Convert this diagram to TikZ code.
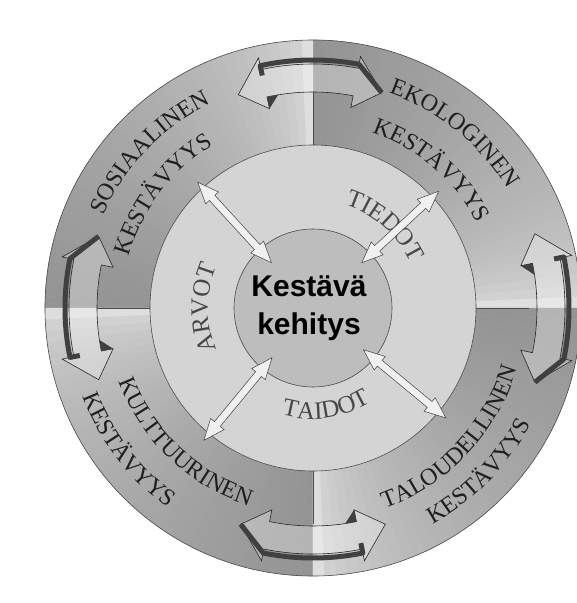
\documentclass[tikz,border=0pt]{standalone}
\usepackage{fontspec}
\setmainfont{Liberation Serif}
\newfontfamily\coresans{Liberation Sans}
\usetikzlibrary{arrows.meta,positioning,decorations.text,shapes.arrows}
\definecolor{ink}{gray}{0.12}
\definecolor{softink}{gray}{0.28}
\definecolor{midring}{gray}{0.83}
\definecolor{corefill}{gray}{0.74}
\definecolor{rimdark}{gray}{0.25}
\definecolor{edge}{gray}{0.3}
\newcommand\ringfont{\fontsize{24}{26}\selectfont}
\newcommand\skillfont{\fontsize{25}{27}\selectfont}

\begin{document}
\begin{tikzpicture}[x=1pt,y=1pt,
  outerword/.style={decorate,decoration={text along path,text align=center,
    text color=ink,text={|\ringfont|#1}}},
  skillword/.style={decorate,decoration={text along path,text align=center,
    text color=softink,text={|\skillfont|#1}}},
  flow/.style={draw=black!85,line width=0.6pt,fill=white,fill opacity=0.3,line join=miter},
  rim/.style={draw=rimdark,line width=5pt,line join=round},
  spoke/.style={double arrow,draw=black!75,fill=black!6,line width=0.5pt,inner sep=0pt,
    inner ysep=3.5pt,double arrow head extend=5pt,double arrow tip angle=45,minimum height=#1},
]
  \useasboundingbox (-313,-295) rectangle (264,308);
  \fill[white] (-313,-295) rectangle (264,308);

  \foreach \q in {0,90,180,270}
    \foreach \i in {0,...,35} {
      \pgfmathsetmacro\dk{13+29*(\i/35)^0.5}
      \pgfmathsetmacro\s{\q+2.5*\i}
      \pgfmathsetmacro\e{\s+2.5}
      \filldraw[fill=black!\dk,draw=black!\dk,line width=0.4pt] (\s:163)
        arc[start angle=\s,end angle=\e,radius=163] -- (\e:268)
        arc[start angle=\e,end angle=\s,radius=268] -- cycle;
    }
  \draw[edge,line width=0.6pt] (0,0) circle[radius=268];
  \foreach \q in {0,90,180,270}
    \draw[edge,line width=0.5pt] (\q:163) -- (\q:216);
  \filldraw[fill=midring,draw=edge,line width=0.6pt] (0,0) circle[radius=163];
  \filldraw[fill=corefill,draw=edge,line width=0.6pt] (0,0) circle[radius=79];

  \path[outerword=SOSIAALINEN] (196.4:229) arc[start angle=196.4,end angle=76.4,radius=229];
  \path[outerword=KESTÄVYYS] (202.9:191) arc[start angle=202.9,end angle=82.9,radius=191];
  \path[outerword=EKOLOGINEN] (111:228) arc[start angle=111,end angle=-9,radius=228];
  \path[outerword=KESTÄVYYS] (109.4:185) arc[start angle=109.4,end angle=-10.6,radius=185];
  \path[outerword=KULTTUURINEN] (166.4:208) arc[start angle=166.4,end angle=286.4,radius=208];
  \path[outerword=KESTÄVYYS] (157.5:247) arc[start angle=157.5,end angle=277.5,radius=247];
  \path[outerword=TALOUDELLINEN] (256.6:213) arc[start angle=256.6,end angle=376.6,radius=213];
  \path[outerword=KESTÄVYYS] (255.5:247) arc[start angle=255.5,end angle=375.5,radius=247];

  \path[skillword=TIEDOT] (98.8:108) arc[start angle=98.8,end angle=-1.2,radius=108];
  \path[skillword=ARVOT] (230:105) arc[start angle=230,end angle=130,radius=105];
  \path[skillword=TAIDOT] (227.6:111) arc[start angle=227.6,end angle=327.6,radius=111];

  \foreach \a/\d in {90.8/0,0/8,180/0,270/2} {
    \pgfmathsetmacro\lo{\a-11.5}
    \pgfmathsetmacro\hi{\a+11.5}
    \pgfmathsetmacro\tlo{\a-18.5}
    \pgfmathsetmacro\thi{\a+18.5}
    \pgfmathsetmacro\ri{216+\d}
    \pgfmathsetmacro\ro{244+\d}
    \pgfmathsetmacro\bi{204+\d}
    \pgfmathsetmacro\bo{256+\d}
    \pgfmathsetmacro\rt{226+\d}
    \pgfmathsetmacro\rr{248+\d}
    \pgfmathsetmacro\rh{238+\d}
    \pgfmathsetmacro\nk{\hi-3}
    \draw[flow] (\lo:\ri) arc[start angle=\lo,end angle=\hi,radius=\ri]
      -- (\hi:\bi) -- (\thi:\rt) -- (\hi:\bo) -- (\hi:\ro)
      arc[start angle=\hi,end angle=\lo,radius=\ro]
      -- (\lo:\bo) -- (\tlo:\rt) -- (\lo:\bi) -- cycle;
    \draw[rim] (\hi:\rh) -- (\hi:\rr) arc[start angle=\hi,end angle=\lo,radius=\rr] -- (\tlo:\rt);
    \fill[rimdark] (\hi:\bi) -- (\nk:\ri) -- (\hi:\ri) -- cycle;
  }

  \node[spoke=109pt,rotate=132.5] (sp-ul) at (132.5:116) {};
  \node[spoke=105pt,rotate=42.9] (sp-ur) at (42.9:119) {};
  \node[spoke=107pt,rotate=-39.6] (sp-lr) at (-39.6:119) {};
  \node[spoke=107pt,rotate=230.5] (sp-ll) at (230.5:118) {};

  \node[font=\coresans\bfseries\fontsize{30}{37.7}\selectfont,align=center,inner sep=0pt]
    (core) at (-4,-0.5) {Kestävä\\kehitys};
\end{tikzpicture}
\end{document}
